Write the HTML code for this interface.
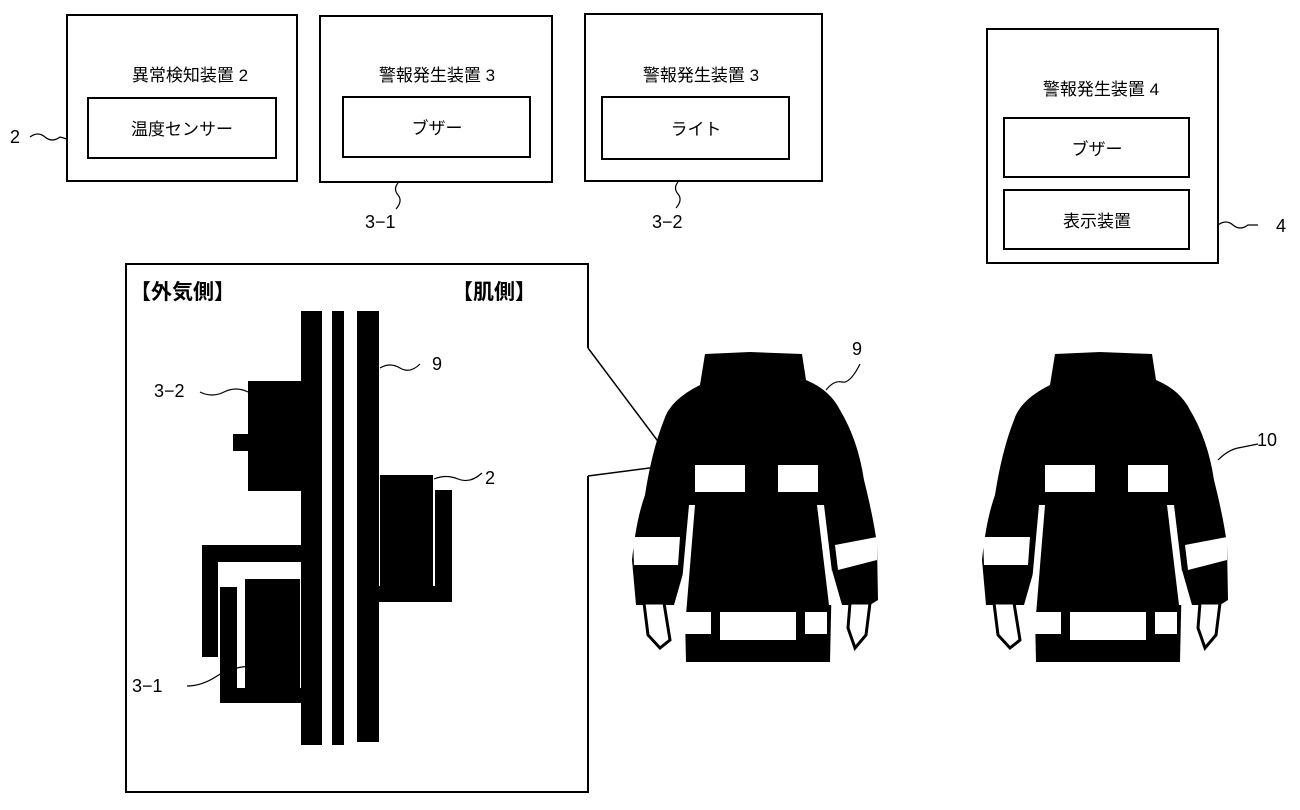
<!DOCTYPE html>
<html><head><meta charset="utf-8"><style>
html,body{margin:0;padding:0;background:#fff;}
svg{display:block}
text{font-family:"Liberation Sans","Noto Sans CJK JP",sans-serif;fill:#000}
</style></head><body>
<svg width="1300" height="810" viewBox="0 0 1300 810" xmlns="http://www.w3.org/2000/svg">
<g fill="none" stroke="#000" stroke-width="2">
<rect x="67" y="15" width="230" height="166"/>
<rect x="88" y="98" width="188" height="60"/>
<rect x="320" y="16" width="232" height="166"/>
<rect x="343" y="97" width="187" height="60"/>
<rect x="585" y="14" width="237" height="167"/>
<rect x="602" y="97" width="187" height="62"/>
<rect x="987" y="29" width="231" height="234"/>
<rect x="1004" y="118" width="185" height="59"/>
<rect x="1004" y="190" width="185" height="59"/>
<path d="M588,348 L588,264 L126,264 L126,792 L588,792 L588,476"/>
<path d="M588,348 L678,468 M588,476 L680,464" stroke-width="1.5"/>
<g stroke-width="1.2">
<path d="M30,137 q8,-6 15,0 t15,0 l7,2"/>
<path d="M398,183 q-5,6 0,12 t-2,14"/>
<path d="M678,182 q-5,6 0,12 t-2,14"/>
<path d="M1218,225 q8,-6 15,0 t15,0 l10,0"/>
<path d="M380,368 q10,-6 20,0 t20,-4"/>
<path d="M200,392 q12,6 24,0 t24,0"/>
<path d="M434,479 q12,-5 24,0 t24,-6"/>
<path d="M187,686 q15,0 30,-10 t40,-10"/>
<path d="M826,390 q8,-10 16,-8 t18,-18"/>
<path d="M1218,460 q10,-10 20,-12 t20,-4"/>
</g>
</g>
<g font-size="17" text-anchor="middle">
<text x="190" y="81">異常検知装置 2</text>
<text x="182" y="135">温度センサー</text>
<text x="437" y="81">警報発生装置 3</text>
<text x="437" y="134">ブザー</text>
<text x="701" y="81">警報発生装置 3</text>
<text x="696" y="135">ライト</text>
<text x="1101" y="95">警報発生装置 4</text>
<text x="1097" y="155">ブザー</text>
<text x="1097" y="227">表示装置</text>
</g>
<g font-size="18">
<text x="10" y="143">2</text>
<text x="365" y="228">3−1</text>
<text x="652" y="228">3−2</text>
<text x="1276" y="232">4</text>
<text x="432" y="370">9</text>
<text x="154" y="397">3−2</text>
<text x="485" y="484">2</text>
<text x="132" y="692">3−1</text>
<text x="852" y="355">9</text>
<text x="1257" y="446">10</text>
</g>
<g font-size="21" font-weight="bold">
<text x="130" y="299">【外気側】</text>
<text x="452" y="299">【肌側】</text>
</g>
<g fill="#000">
<rect x="301" y="311" width="21" height="434"/>
<rect x="332" y="311" width="12" height="434"/>
<rect x="357" y="311" width="22" height="431"/>
<rect x="248" y="381" width="54" height="110"/>
<rect x="233" y="434" width="15" height="17"/>
<rect x="380" y="475" width="53" height="111"/>
<rect x="435" y="490" width="17" height="112"/>
<rect x="379" y="586" width="73" height="16"/>
<rect x="202" y="545" width="100" height="17"/>
<rect x="202" y="545" width="16" height="112"/>
<rect x="220" y="688" width="82" height="15"/>
<rect x="220" y="587" width="17" height="116"/>
<rect x="245" y="579" width="55" height="109"/>
</g>
<g id="jk">
<path fill="#000" d="M705,354 L750,352 L802,354 L806,380 Q830,390 840,410 Q858,440 864,480 Q874,520 877,545 L878,600 L870,605 L842,605 L832,570 L830,662 L686,662 L684,570 L674,605 L636,605 L632,560 Q636,520 645,495 Q652,450 664,420 Q670,400 700,385 Z"/>
<g fill="#fff">
<rect x="695" y="465" width="50" height="27"/>
<rect x="778" y="465" width="40" height="27"/>
<rect x="720" y="612" width="76" height="28"/>
<rect x="683" y="612" width="28" height="22"/>
<rect x="805" y="612" width="22" height="22"/>
<path d="M633,537 L680,537 L678,565 L634,565 Z"/>
<path d="M835,545 L877,537 L877,560 L838,570 Z"/>
<path d="M689,505 L695,505 L686,615 L679,615 Z"/>
<path d="M817,505 L824,505 L836,605 L829,605 Z"/>
</g>
<g fill="#fff" stroke="#000" stroke-width="3">
<path d="M644,603 L664,603 L670,640 L660,648 L648,635 Z"/>
<path d="M850,603 L870,603 L866,635 L855,648 L848,628 Z"/>
</g>
</g>
<use href="#jk" transform="translate(350,0)"/>
</svg>
</body></html>
